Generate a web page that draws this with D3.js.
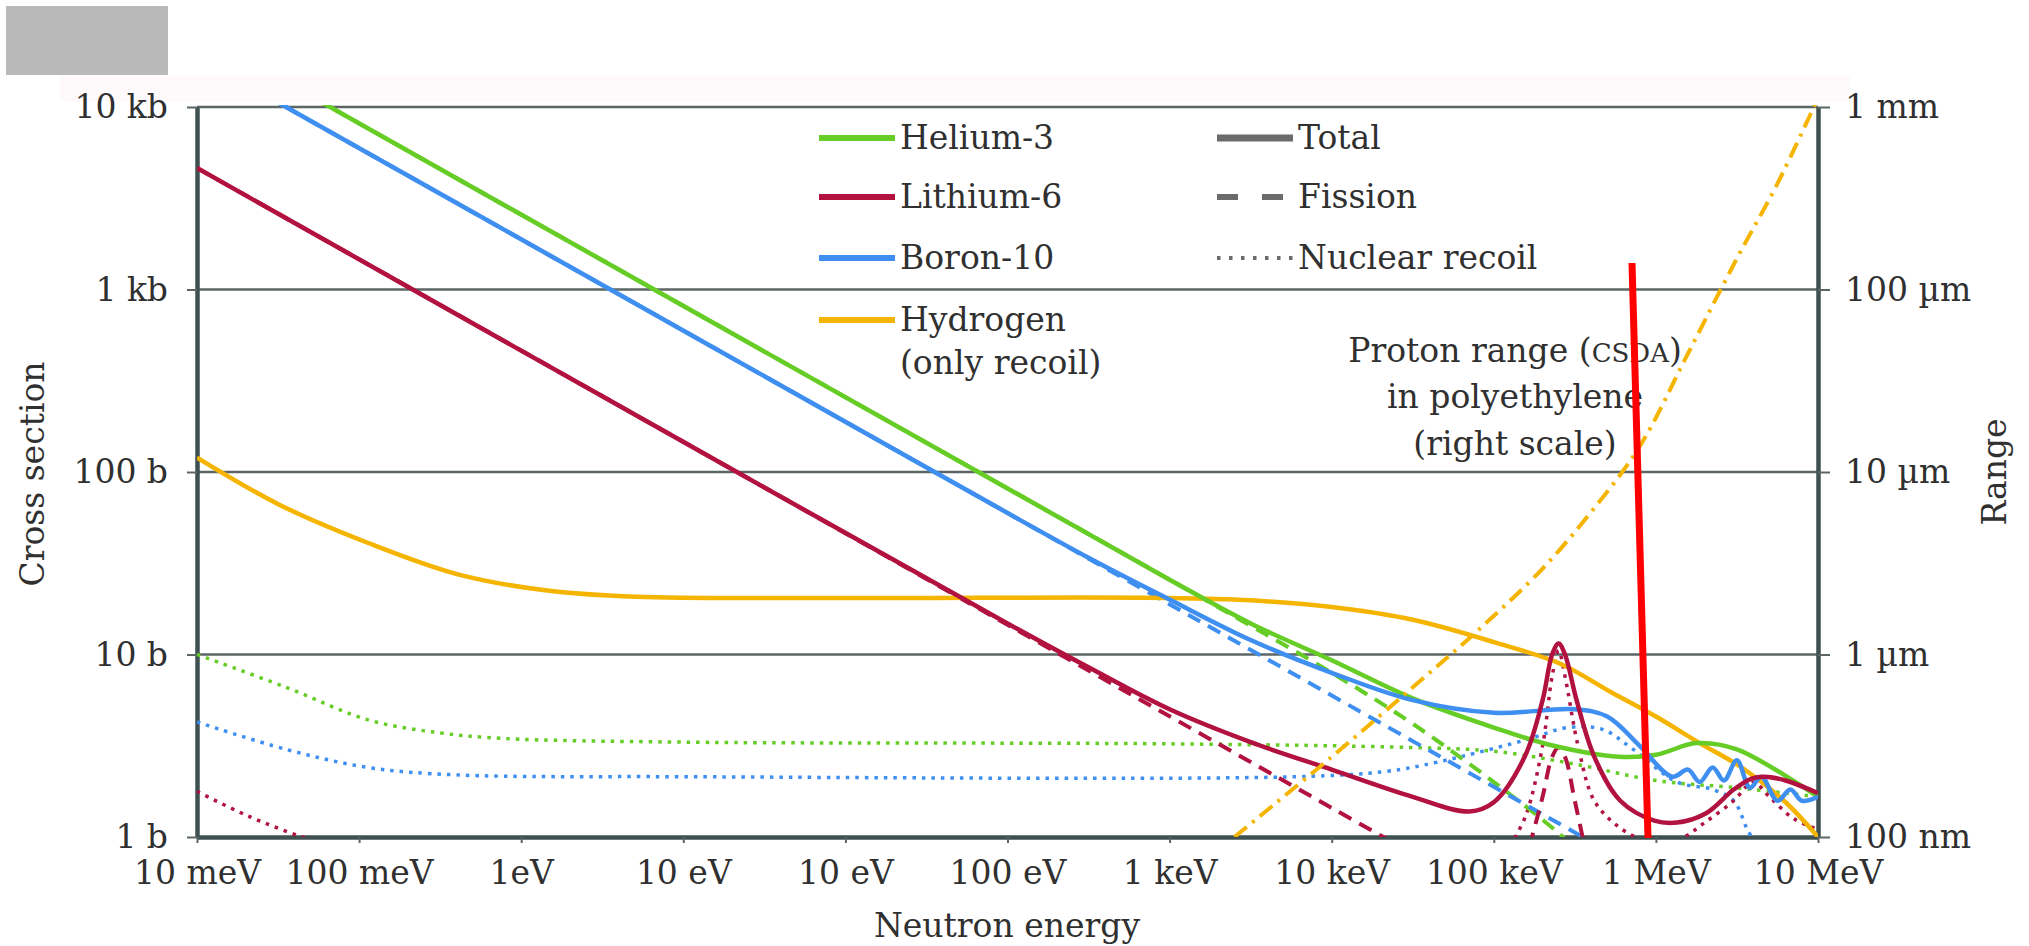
<!DOCTYPE html>
<html>
<head>
<meta charset="utf-8">
<script src="https://cdn.jsdelivr.net/npm/d3@7"></script>
<style>
    body { margin: 0; background: #fff; }
    text { font-family: "DejaVu Serif", serif; }
</style>
</head>
<body>
<div id="chart"></div>
<script>
let canvasWidth = 2029;
let canvasHeight = 946;

// plot box
let plotLeft = 197, plotRight = 1818, plotTop = 107, plotBottom = 837;

// axis ticks and labels (as printed on the figure)
let xTicks = [1e-3, 1e-2, 1e-1, 1, 10, 100, 1e3, 1e4, 1e5, 1e6, 1e7];
let xTickLabels = ["10 meV", "100 meV", "1eV", "10 eV", "10 eV", "100 eV", "1 keV", "10 keV", "100 keV", "1 MeV", "10 MeV"];
let yTicks = [1, 10, 100, 1000, 10000];
let yTickLabels = ["1 b", "10 b", "100 b", "1 kb", "10 kb"];
let rTicks = [0.1, 1, 10, 100, 1000];
let rTickLabels = ["100 nm", "1 µm", "10 µm", "100 µm", "1 mm"];

// [energy eV, cross section b]
let he3Total = [[0.00398, 12900], [0.661, 1000], [66.1, 100], [1000, 25.7], [3162, 14.8], [10000, 9.3],
    [31623, 5.75], [1e5, 3.98], [2.34e5, 3.16], [5.89e5, 2.75], [1e6, 2.82], [1.78e6, 3.27], [3.16e6, 3.02], [1e7, 1.66]];
let he3Fission = [[0.00398, 12900], [66.1, 100], [1585, 20.4], [1e4, 7.94], [31623, 4.17], [1e5, 2.0],
    [2.51e5, 1.05], [3.98e5, 0.71]];
let he3Recoil = [[0.001, 10], [0.00355, 6.61], [0.0115, 4.37], [0.0316, 3.72], [0.0759, 3.47], [1, 3.31],
    [1000, 3.24], [31623, 3.09], [1e5, 2.95], [3.16e5, 2.51], [1e6, 2.04], [3.16e6, 1.86], [1e7, 1.66]];

let li6Total = [[0.001, 4630], [0.0214, 1000], [2.14, 100], [100, 14.8], [316, 8.51], [1000, 5.01], [3162, 3.31],
    [1e4, 2.34], [31623, 1.66], [70795, 1.38], [1e5, 1.55], [1.55e5, 2.75], [2e5, 5.62], [2.29e5, 10], [2.51e5, 11.5],
    [2.75e5, 10], [3.24e5, 5.62], [4.17e5, 2.75], [6.03e5, 1.58], [9.77e5, 1.23], [1.35e6, 1.2], [2.04e6, 1.35],
    [3.02e6, 1.82], [3.89e6, 2.09], [4.68e6, 2.14], [6.31e6, 2.04], [1e7, 1.74]];
let li6Fission = [[0.001, 4630], [2.14, 100], [25119, 0.91]];
let li6FissionPeak = [[1.66e5, 0.89], [2e5, 1.66], [2.29e5, 2.75], [2.51e5, 3.09], [2.75e5, 2.75], [3.16e5, 1.58], [3.63e5, 0.89]];
let li6Recoil = [[0.001, 1.78], [0.002, 1.32], [0.00447, 1.0], [0.00794, 0.87]];
let li6RecoilPeak = [[1.26e5, 0.89], [1.58e5, 1.32], [2e5, 3.16], [2.29e5, 7.59], [2.51e5, 10.5], [2.75e5, 7.59],
    [3.31e5, 3.16], [4.17e5, 1.58], [6.03e5, 1.12], [8.91e5, 0.95], [1.41e6, 0.98], [2e6, 1.2], [3.02e6, 1.58],
    [3.98e6, 2.0], [5.01e6, 1.66], [7.08e6, 1.26], [1e7, 1.1]];

let b10Total = [[0.002, 13300], [0.355, 1000], [35.5, 100], [316, 33.9], [1000, 20], [3162, 12], [1e4, 7.94],
    [31623, 5.62], [1e5, 4.79], [3.16e5, 5.01], [5.01e5, 4.57], [7.94e5, 3.16], [1.26e6, 2.14], [1.58e6, 2.34],
    [1.86e6, 2.0], [2.24e6, 2.4], [2.63e6, 2.04], [3.16e6, 2.63], [3.8e6, 1.86], [4.47e6, 2.14], [5.62e6, 1.58],
    [6.76e6, 1.82], [7.94e6, 1.58], [1e7, 1.66]];
let b10Fission = [[0.002, 13300], [35.5, 100], [44668, 2.82], [5.01e5, 0.84]];
let b10Recoil = [[0.001, 4.27], [0.00355, 3.02], [0.0115, 2.4], [0.0398, 2.19], [1, 2.14], [6026, 2.14],
    [21878, 2.29], [44668, 2.57], [1.55e5, 3.39], [2.88e5, 3.98], [4.68e5, 3.89], [7.24e5, 3.02], [1.35e6, 2.0],
    [2.24e6, 1.82], [3.02e6, 1.58], [3.63e6, 1.12], [4.17e6, 0.89]];

let hRecoil = [[0.001, 120], [0.00324, 66], [0.0115, 40.7], [0.0407, 27.5], [0.145, 22.4], [0.513, 20.7],
    [10, 20.4], [1000, 20.4], [3162, 19.8], [1e4, 18.2], [31623, 15.5], [1e5, 11.7], [2.57e5, 8.9], [5.37e5, 6.17],
    [1e6, 4.57], [1.86e6, 3.27], [3.39e6, 2.4], [6.31e6, 1.55], [1e7, 1.0]];

// [energy eV, range µm] (right scale)
let protonRange = [[2512, 0.1], [1e4, 0.275], [31623, 0.661], [79433, 1.35], [1.995e5, 2.95], [3.98e5, 6.03],
    [7.94e5, 13.8], [1.58e6, 44.7], [3.16e6, 148], [5.62e6, 380], [1e7, 1122]];

let legendNames = ["Helium-3", "Lithium-6", "Boron-10", "Hydrogen"];
let legendKinds = ["Total", "Fission", "Nuclear recoil"];

let green = "#66cc26", red = "#b1123f", blue = "#3f8ff0", orange = "#f4b400", grey = "#6b6b6b";
let axisColor = "#3f5050", gridColor = "#5b6565", textColor = "#303030";

let svg = d3.select("#chart")
    .append("svg")
    .attr("width", canvasWidth)
    .attr("height", canvasHeight);

svg.append("rect")
    .attr("width", "100%")
    .attr("height", "100%")
    .attr("fill", "#fff");

// faint band over the plot and the grey block in the corner
svg.append("rect")
    .attr("x", 60).attr("y", 76).attr("width", 1790).attr("height", 26)
    .attr("fill", "#fefafc");
svg.append("rect")
    .attr("x", 6).attr("y", 6).attr("width", 162).attr("height", 69)
    .attr("fill", "#b9b9b9");

let xScale = d3.scaleLog().domain([1e-3, 1e7]).range([plotLeft, plotRight]);
let yScale = d3.scaleLog().domain([1, 1e4]).range([plotBottom, plotTop]);
let rScale = d3.scaleLog().domain([0.1, 1000]).range([plotBottom, plotTop]);

// horizontal grid
svg.append("g")
    .selectAll("line")
    .data(yTicks.slice(1))
    .join("line")
    .attr("x1", plotLeft)
    .attr("x2", plotRight)
    .attr("y1", d => yScale(d))
    .attr("y2", d => yScale(d))
    .attr("stroke", gridColor)
    .attr("stroke-width", 2.5);

function styleAxis(g) {
    g.attr("font-family", "DejaVu Serif")
        .attr("font-size", 33)
        .attr("color", textColor);
    g.selectAll(".tick line").attr("stroke", gridColor).attr("stroke-width", 2);
    g.select(".domain").attr("stroke", axisColor).attr("stroke-width", 4.5);
}

// left axis
svg.append("g")
    .attr("transform", "translate(" + plotLeft + ", 0)")
    .call(d3.axisLeft(yScale)
        .tickValues(yTicks)
        .tickFormat((d, i) => yTickLabels[i])
        .tickSize(10)
        .tickPadding(19)
        .tickSizeOuter(0))
    .call(styleAxis);

// right axis
svg.append("g")
    .attr("transform", "translate(" + plotRight + ", 0)")
    .call(d3.axisRight(rScale)
        .tickValues(rTicks)
        .tickFormat((d, i) => rTickLabels[i])
        .tickSize(12)
        .tickPadding(15)
        .tickSizeOuter(0))
    .call(styleAxis);

// bottom axis
svg.append("g")
    .attr("transform", "translate(0, " + plotBottom + ")")
    .call(d3.axisBottom(xScale)
        .tickValues(xTicks)
        .tickFormat((d, i) => xTickLabels[i])
        .tickSize(6)
        .tickPadding(18)
        .tickSizeOuter(0))
    .call(styleAxis);

// axis titles
svg.append("text")
    .attr("transform", "translate(44, 474) rotate(-90)")
    .attr("text-anchor", "middle")
    .attr("font-size", 33)
    .attr("fill", textColor)
    .text("Cross section");

svg.append("text")
    .attr("transform", "translate(2006, 472) rotate(-90)")
    .attr("text-anchor", "middle")
    .attr("font-size", 33)
    .attr("fill", textColor)
    .text("Range");

svg.append("text")
    .attr("x", 1007)
    .attr("y", 937)
    .attr("text-anchor", "middle")
    .attr("font-size", 33)
    .attr("fill", textColor)
    .text("Neutron energy");

// curves, clipped to the plot box
svg.append("clipPath")
    .attr("id", "plotClip")
    .append("rect")
    .attr("x", plotLeft)
    .attr("y", plotTop - 2)
    .attr("width", plotRight - plotLeft)
    .attr("height", plotBottom - plotTop + 2);

let plot = svg.append("g").attr("clip-path", "url(#plotClip)");

let line = d3.line()
    .x(d => xScale(d[0]))
    .y(d => yScale(d[1]))
    .curve(d3.curveCatmullRom.alpha(0.5));

let rangeLine = d3.line()
    .x(d => xScale(d[0]))
    .y(d => rScale(d[1]))
    .curve(d3.curveCatmullRom.alpha(0.5));

let dash = "14,9", dot = "3.5,6";

let series = [
    {data: he3Recoil, color: green, dash: dot, width: 3.5},
    {data: b10Recoil, color: blue, dash: dot, width: 3.5},
    {data: li6Recoil, color: red, dash: dot, width: 3.5},
    {data: li6RecoilPeak, color: red, dash: dot, width: 3.5},
    {data: he3Fission, color: green, dash: dash, width: 4},
    {data: b10Fission, color: blue, dash: dash, width: 4},
    {data: li6Fission, color: red, dash: dash, width: 4},
    {data: li6FissionPeak, color: red, dash: dash, width: 4},
    {data: hRecoil, color: orange, dash: null, width: 4.5},
    {data: he3Total, color: green, dash: null, width: 4.5},
    {data: b10Total, color: blue, dash: null, width: 4.5},
    {data: li6Total, color: red, dash: null, width: 4.5}
];

plot.selectAll("path.curve")
    .data(series)
    .join("path")
    .attr("class", "curve")
    .attr("d", d => line(d.data))
    .attr("fill", "none")
    .attr("stroke", d => d.color)
    .attr("stroke-width", d => d.width)
    .attr("stroke-dasharray", d => d.dash);

plot.append("path")
    .attr("d", rangeLine(protonRange))
    .attr("fill", "none")
    .attr("stroke", orange)
    .attr("stroke-width", 4)
    .attr("stroke-dasharray", "16,7,3,7");

// legend
let legendColors = [green, red, blue, orange];
let rowY = [138, 197, 258, 320];

let legend = svg.append("g");

legend.selectAll("line.name")
    .data(legendNames)
    .join("line")
    .attr("class", "name")
    .attr("x1", 819).attr("x2", 895)
    .attr("y1", (d, i) => rowY[i])
    .attr("y2", (d, i) => rowY[i])
    .attr("stroke", (d, i) => legendColors[i])
    .attr("stroke-width", 6);

legend.selectAll("text.name")
    .data(legendNames)
    .join("text")
    .attr("class", "name")
    .attr("x", 900)
    .attr("y", (d, i) => rowY[i] + 11)
    .attr("font-size", 33)
    .attr("fill", textColor)
    .text(d => d);

legend.append("text")
    .attr("x", 900)
    .attr("y", rowY[3] + 54)
    .attr("font-size", 33)
    .attr("fill", textColor)
    .text("(only recoil)");

let kindDash = [null, "21,24", "3.5,8.5"];
let kindWidth = [7, 6, 4];

legend.selectAll("line.kind")
    .data(legendKinds)
    .join("line")
    .attr("class", "kind")
    .attr("x1", 1217).attr("x2", 1293)
    .attr("y1", (d, i) => rowY[i])
    .attr("y2", (d, i) => rowY[i])
    .attr("stroke", grey)
    .attr("stroke-width", (d, i) => kindWidth[i])
    .attr("stroke-dasharray", (d, i) => kindDash[i]);

legend.selectAll("text.kind")
    .data(legendKinds)
    .join("text")
    .attr("class", "kind")
    .attr("x", 1298)
    .attr("y", (d, i) => rowY[i] + 11)
    .attr("font-size", 33)
    .attr("fill", textColor)
    .text(d => d);

// note for the range curve
let note = svg.append("g")
    .attr("font-size", 33)
    .attr("fill", textColor)
    .attr("text-anchor", "middle");

let first = note.append("text").attr("x", 1515).attr("y", 362);
first.append("tspan").text("Proton range (");
first.append("tspan").attr("font-size", 26).text("CSDA");
first.append("tspan").text(")");

note.append("text").attr("x", 1515).attr("y", 408).text("in polyethylene");
note.append("text").attr("x", 1515).attr("y", 455).text("(right scale)");

// red mark drawn over the figure
svg.append("line")
    .attr("x1", 1632).attr("y1", 263)
    .attr("x2", 1648).attr("y2", 838)
    .attr("stroke", "#ff0000")
    .attr("stroke-width", 7);
</script>
</body>
</html>
